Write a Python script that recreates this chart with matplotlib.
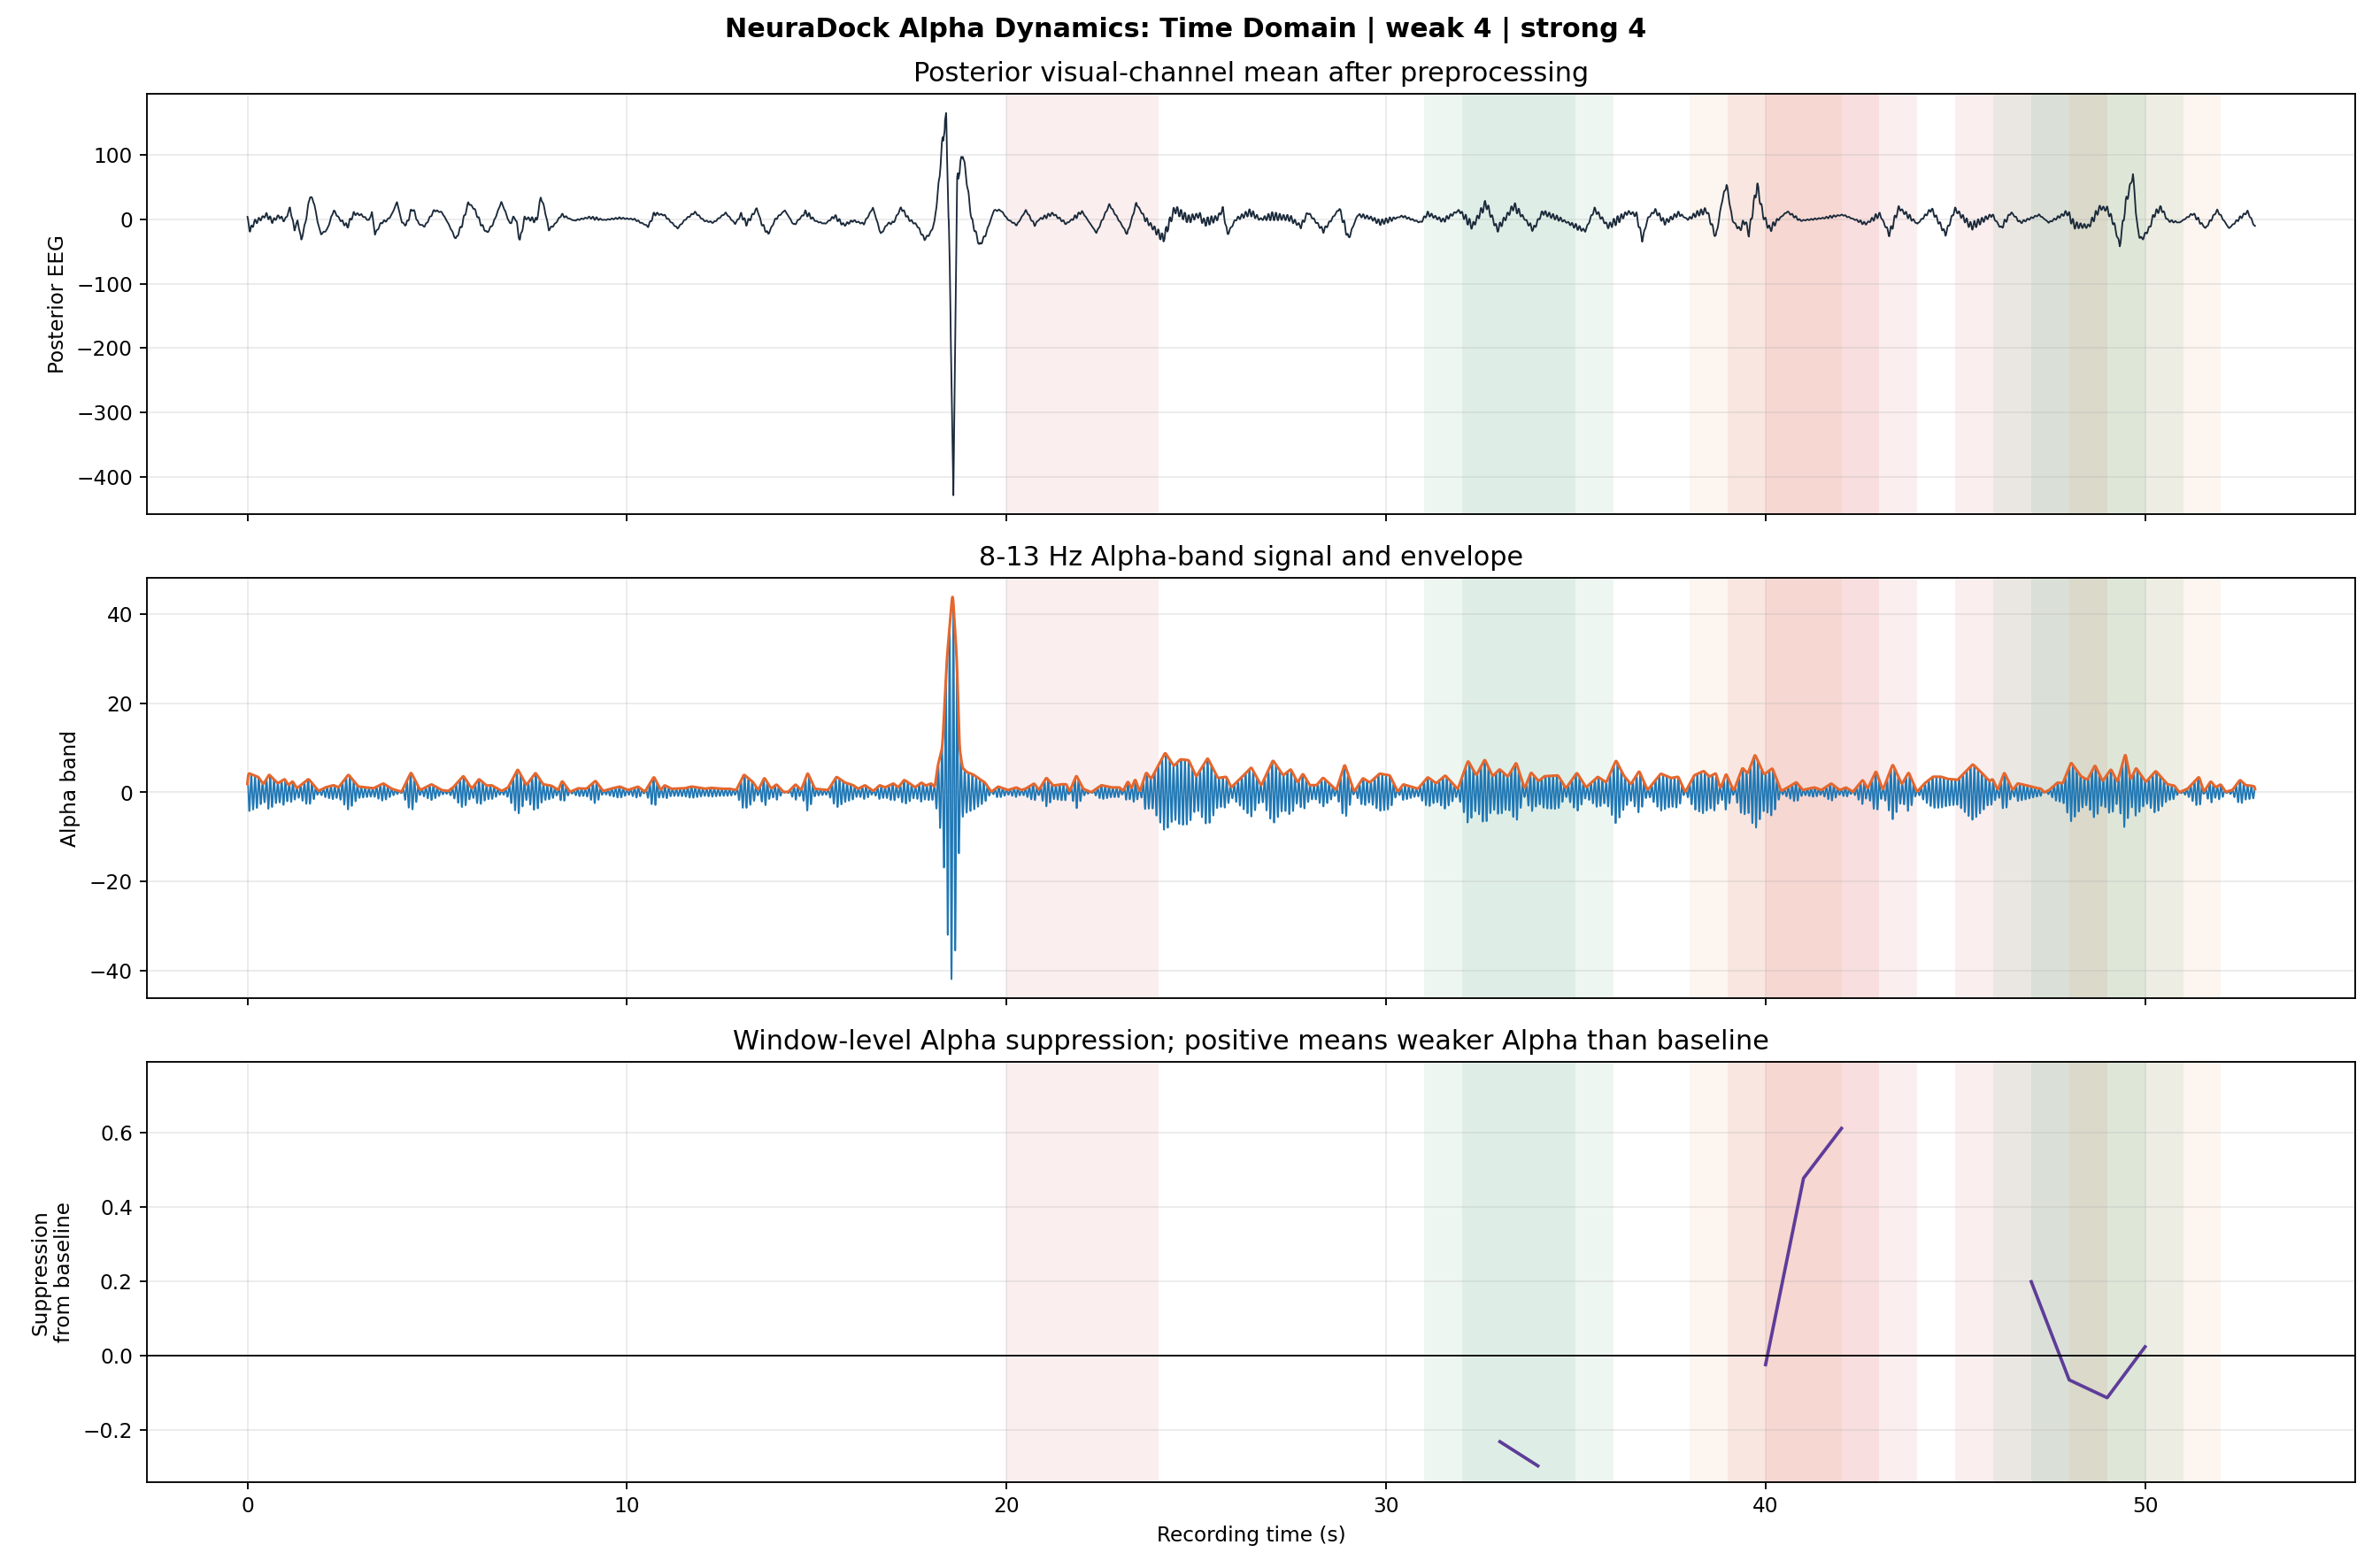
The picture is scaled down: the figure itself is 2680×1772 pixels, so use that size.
import numpy as np
import matplotlib
matplotlib.use("Agg")
import matplotlib.pyplot as plt

## values

# slow part of the posterior EEG trace (s, uV), read at its turning points
eeg_t = [0, 0.07, 0.17, 0.33, 0.5, 0.66, 0.82, 0.99, 1.12, 1.24, 1.32, 1.42, 1.52, 1.65, 1.76, 1.84,
         1.94, 2.1, 2.27, 2.43, 2.63, 2.8, 3.0, 3.2, 3.28, 3.36, 3.53, 3.69, 3.8, 3.94, 4.07, 4.18,
         4.35, 4.51, 4.67, 4.92, 5.12, 5.28, 5.49, 5.66, 5.82, 5.98, 6.15, 6.31, 6.47, 6.69, 6.8,
         6.91, 7.05, 7.18, 7.3, 7.5, 7.62, 7.73, 7.83, 7.94, 8.11, 8.27, 8.6, 9.0, 9.4, 9.8, 10.2,
         10.56, 10.72, 10.97, 11.33, 11.54, 11.79, 12.03, 12.28, 12.6, 12.85, 13.01, 13.14, 13.26,
         13.42, 13.55, 13.72, 13.91, 14.16, 14.4, 14.7, 14.98, 15.22, 15.47, 15.71, 15.96, 16.24,
         16.48, 16.69, 16.86, 17.02, 17.22, 17.43, 17.64, 17.84, 18.0, 18.1, 18.2, 18.3, 18.41,
         18.5, 18.6, 18.7, 18.85, 18.95, 19.08, 19.29, 19.44, 19.67, 19.85, 20.03, 20.27, 20.51,
         20.74, 20.86, 21.22, 21.58, 21.99, 22.37, 22.71, 23.18, 23.42, 23.66, 24.13, 24.43, 24.79,
         25.08, 25.2, 25.56, 25.7, 25.82, 26.04, 26.42, 26.69, 26.99, 27.46, 27.76, 27.94, 28.35,
         28.77, 29.01, 29.25, 29.6, 29.84, 30.43, 30.91, 31.09, 31.5, 31.92, 32.28, 32.63, 32.93,
         33.37, 33.88, 34.12, 34.6, 35.25, 35.49, 35.85, 36.08, 36.38, 36.6, 36.75, 36.9, 37.09,
         37.34, 37.71, 37.95, 38.2, 38.45, 38.69, 38.84, 38.97, 39.13, 39.31, 39.46, 39.56, 39.68,
         39.78, 39.93, 40.11, 40.3, 40.57, 40.92, 41.53, 42.03, 42.64, 43.01, 43.26, 43.51, 44.0,
         44.37, 44.74, 44.99, 45.42, 45.97, 46.2, 46.47, 46.71, 47.21, 47.46, 47.95, 48.13, 48.51,
         48.81, 49.0, 49.18, 49.33, 49.49, 49.68, 49.8, 49.9, 50.11, 50.23, 50.42, 50.6, 50.91,
         51.26, 51.59, 51.9, 52.21, 52.46, 52.7, 52.89]
eeg_v = [2, -18, -5, 0, 7, -3, 5, -2, 18, -16, -2, -32, -7, 37, 25, -2,
         -23, -16, 14, 0, -11, 9, 7, -2, 11, -23, -5, -1, 7, 27, -5, -9,
         18, -7, -11, 14, 11, -5, -31, -7, 26, 16, -7, -21, -7, 27, 11,
         -7, 5, -33, 2, 0, -2, 35, 16, -16, -7, 7, -2, 3, -1, 2, 0,
         -11, 9, 7, -14, 0, 11, -2, -5, 10, -7, 8, -7, 2,
         17, -7, -23, 0, 14, -9, 11, -3, -7, 5, -9, -2, -7,
         18, -23, -7, -5, 18, 0, -9, -31, -21, -5, 45, 115, 160,
         -60, -435, 60, 103, 60, 0, -41, -25, 14, 14, 0, -9, 14,
         -9, 0, 9, -7, 12, -21, 23, -23, 25, 0, -30, 16, 0,
         7, -5, 2, 16, -23, 0, 11, 0, 5, 2, -11, 11, -18,
         17, -30, 7, 2, -5, 5, -5, 9, -2, 14, -11, 25, -16,
         21, -16, 11, 0, -18, 16, -11, -2, 11, 7, -32, 2, 14,
         -5, 9, 0, 9, 14, -28, 25, 55, -2, -16, -2, -23, 21,
         53, 7, -16, -2, 12, -2, 2, 7, -7, 8, -23, 18, -7,
         16, -23, 16, -11, 7, -14, 11, -5, 7, -5, 11, -9, -11,
         18, 16, -7, -41, 25, 69, -16, -32, -14, 7, 18, -2, -5,
         9, -14, 14, -14, 0, 12, -11]

# 8-13 Hz amplitude envelope (s, uV)
env_t = [0.0, 0.03, 0.29, 0.42, 0.57, 0.8, 0.98, 1.08, 1.19, 1.3, 1.61, 1.87, 2.05, 2.27, 2.4, 2.66,
         2.92, 3.32, 3.58, 3.8, 4.06, 4.31, 4.55, 4.85, 5.12, 5.29, 5.42, 5.69, 5.91, 6.1, 6.3,
         6.43, 6.7, 6.87, 7.12, 7.35, 7.59, 7.79, 8.01, 8.19, 8.29, 8.5, 8.71, 8.93, 9.17, 9.37,
         9.57, 9.81, 10.03, 10.29, 10.47, 10.71, 10.89, 10.99, 11.17, 11.52, 11.7, 12.05, 12.22,
         12.49, 12.71, 12.88, 13.08, 13.32, 13.46, 13.62, 13.8, 13.94, 14.12, 14.25, 14.44, 14.59,
         14.76, 14.95, 15.3, 15.52, 15.74, 15.96, 16.09, 16.27, 16.49, 16.66, 16.8, 17.02, 17.15,
         17.3, 17.45, 17.59, 17.76, 17.87, 18.02, 18.11, 18.19, 18.31, 18.43, 18.58, 18.69, 18.76,
         18.84, 18.96, 19.12, 19.43, 19.6, 19.78, 20.04, 20.26, 20.39, 20.5, 20.73, 20.85, 21.05,
         21.23, 21.45, 21.58, 21.66, 21.84, 22.02, 22.23, 22.5, 22.76, 22.98, 23.07, 23.2, 23.29,
         23.39, 23.51, 23.68, 23.81, 24.18, 24.41, 24.58, 24.8, 25.0, 25.3, 25.57, 25.79, 25.92,
         26.2, 26.45, 26.71, 27.02, 27.29, 27.49, 27.67, 27.81, 27.99, 28.17, 28.34, 28.69, 28.91,
         29.16, 29.39, 29.57, 29.83, 30.1, 30.31, 30.45, 30.84, 31.1, 31.32, 31.56, 31.89, 32.16,
         32.38, 32.6, 32.81, 32.99, 33.21, 33.43, 33.65, 33.82, 34.02, 34.17, 34.53, 34.74, 35.03,
         35.27, 35.58, 35.8, 36.06, 36.26, 36.45, 36.67, 36.89, 37.24, 37.51, 37.7, 37.88, 38.12,
         38.37, 38.52, 38.69, 38.81, 38.96, 39.16, 39.39, 39.53, 39.72, 39.96, 40.18, 40.41, 40.59,
         40.81, 40.98, 41.12, 41.29, 41.47, 41.73, 41.95, 42.12, 42.3, 42.56, 42.69, 42.91, 43.09,
         43.35, 43.59, 43.77, 43.99, 44.19, 44.41, 44.62, 44.8, 45.06, 45.46, 45.68, 45.9, 45.98,
         46.12, 46.29, 46.51, 46.64, 46.86, 47.08, 47.26, 47.34, 47.47, 47.69, 47.83, 48.05, 48.31,
         48.48, 48.68, 48.88, 49.1, 49.27, 49.48, 49.62, 49.76, 50.02, 50.28, 50.59, 50.77, 50.9,
         51.12, 51.42, 51.55, 51.73, 51.86, 51.99, 52.12, 52.3, 52.5, 52.65, 52.78, 52.89]
env_v = [3.0, 4.3, 3.4, 1.8, 4.0, 2.0, 3.0, 1.6, 2.5, 0.9, 3.0, 0.3, 1.1, 1.6, 1.1, 4.0,
         1.3, 0.9, 2.0, 0.8, 0.1, 4.5, 0.5, 1.8, 0.5, 0.3, 1.1, 3.7, 0.8, 3.0, 1.5,
         1.6, 0.3, 1.1, 5.2, 1.6, 4.4, 1.8, 1.5, 0.5, 2.6, 0.1, 0.9, 0.8, 2.6, 0.3,
         0.8, 1.3, 0.5, 1.3, 0.1, 3.5, 0.5, 1.6, 0.8, 0.9, 1.3, 0.8, 1.0,
         0.8, 0.8, 0.5, 4.0, 2.3, 0.5, 3.3, 0.8, 1.8, 0.1, 0.1, 1.8, 0.5,
         4.4, 0.8, 0.5, 3.5, 2.2, 1.6, 0.8, 1.6, 0.3, 1.6, 1.1, 2.0, 1.1,
         2.8, 2.0, 1.1, 2.2, 1.5, 2.0, 1.1, 6.0, 10.0, 30.0, 45.0, 30.0, 10.0,
         5.5, 4.5, 4.0, 2.2, 0.1, 1.3, 0.5, 1.1, 0.5, 0.8, 2.0, 0.5, 3.3,
         1.5, 1.8, 1.8, 0.1, 3.8, 0.8, 0.0, 1.6, 1.1, 1.1, 0.3, 2.5, 0.8,
         3.0, 0.1, 4.5, 3.0, 8.9, 5.9, 7.4, 7.2, 3.5, 7.7, 3.2, 3.5, 1.1,
         3.4, 5.6, 1.5, 7.2, 3.8, 5.2, 2.2, 4.2, 1.6, 1.6, 3.3, 0.5, 6.3,
         0.1, 3.2, 2.2, 4.2, 3.8, 0.1, 1.8, 0.8, 3.4, 2.0, 3.8, 0.7, 7.1,
         3.8, 7.4, 3.6, 5.2, 3.5, 6.7, 0.8, 4.5, 2.5, 3.6, 3.8, 0.9, 4.4,
         1.1, 3.5, 2.2, 7.2, 3.8, 1.8, 4.8, 0.5, 4.2, 3.2, 3.5, 0.0, 3.8,
         4.8, 3.5, 4.3, 0.8, 4.2, 0.3, 5.5, 4.2, 8.5, 4.0, 5.4, 0.3, 1.1,
         2.3, 0.5, 0.8, 1.1, 0.5, 2.0, 0.5, 1.1, 0.1, 2.8, 0.8, 4.8, 0.5,
         6.3, 1.8, 4.5, 0.1, 2.0, 3.5, 3.5, 3.0, 2.8, 6.3, 4.5, 2.5, 3.0,
         0.5, 4.5, 0.5, 2.0, 1.6, 1.1, 0.8, 0.0, 0.5, 2.2, 2.0, 6.7, 3.6,
         2.8, 6.1, 2.5, 5.2, 2.3, 8.7, 2.8, 5.5, 2.3, 4.8, 1.8, 1.5, 0.0,
         0.8, 3.5, 0.1, 2.5, 1.1, 1.8, 0.1, 0.5, 2.8, 1.6, 1.5, 1.3]

fs = 250          # samples per second
alpha_hz = 10     # carrier of the alpha-band signal

# window-level alpha suppression (window centre s, value); nan breaks the line
win_t = [33, 34, np.nan, 40, 41, 42, np.nan, 47, 48, 49, 50]
win_v = [-0.231, -0.296, np.nan, -0.024, 0.477, 0.611, np.nan, 0.199, -0.065, -0.113, 0.024]

# marked events: weak, strong and other intervals
span_start = [20, 39, 40, 45, 31, 32, 46, 47, 38, 48]
span_end = [24, 43, 44, 49, 35, 36, 50, 51, 42, 52]
span_kind = ['weak', 'weak', 'weak', 'weak', 'strong', 'strong', 'strong', 'strong', 'other', 'other']
kind_color = {'weak': '#d62728', 'strong': '#28965a', 'other': '#e68c3c'}

## build the traces

t = np.arange(0, 52.9, 1.0 / fs)
win = np.hanning(19)
win = win / win.sum()
env = np.convolve(np.interp(t, env_t, env_v), win, mode='same')
alpha = env * np.cos(2 * np.pi * alpha_hz * t)
eeg = np.interp(t, eeg_t, eeg_v) + np.clip(alpha, -6, 6)

## draw

fig, axes = plt.subplots(3, 1, figsize=(16, 10.58), dpi=167.5, sharex=True)
fig.subplots_adjust(left=0.062, right=0.993, top=0.940, bottom=0.0547, hspace=0.151)
fig.suptitle('NeuraDock Alpha Dynamics: Time Domain | weak 4 | strong 4',
             fontsize=13, fontweight='bold', y=0.989)

for ax in axes:
    for s, e, k in zip(span_start, span_end, span_kind):
        ax.axvspan(s, e, color=kind_color[k], alpha=0.08, lw=0)
    ax.grid(True, alpha=0.25)

ax = axes[0]
ax.plot(t, eeg, color='#1b2a3b', lw=0.8)
ax.set_title('Posterior visual-channel mean after preprocessing', fontsize=13)
ax.set_ylabel('Posterior EEG')

ax = axes[1]
ax.plot(t, alpha, color='#1f77b4', lw=0.8)
ax.plot(t, env, color='#e5672e', lw=1.3)
ax.set_title('8-13 Hz Alpha-band signal and envelope', fontsize=13)
ax.set_ylabel('Alpha band')

ax = axes[2]
ax.plot(win_t, win_v, color='#5e3c99', lw=1.6)
ax.axhline(0, color='black', lw=0.8)
ax.set_ylim(-0.34, 0.79)
ax.set_title('Window-level Alpha suppression; positive means weaker Alpha than baseline', fontsize=13)
ax.set_ylabel('Suppression\nfrom baseline')
ax.set_xlabel('Recording time (s)')

plt.savefig('out.png', dpi=167.5)
